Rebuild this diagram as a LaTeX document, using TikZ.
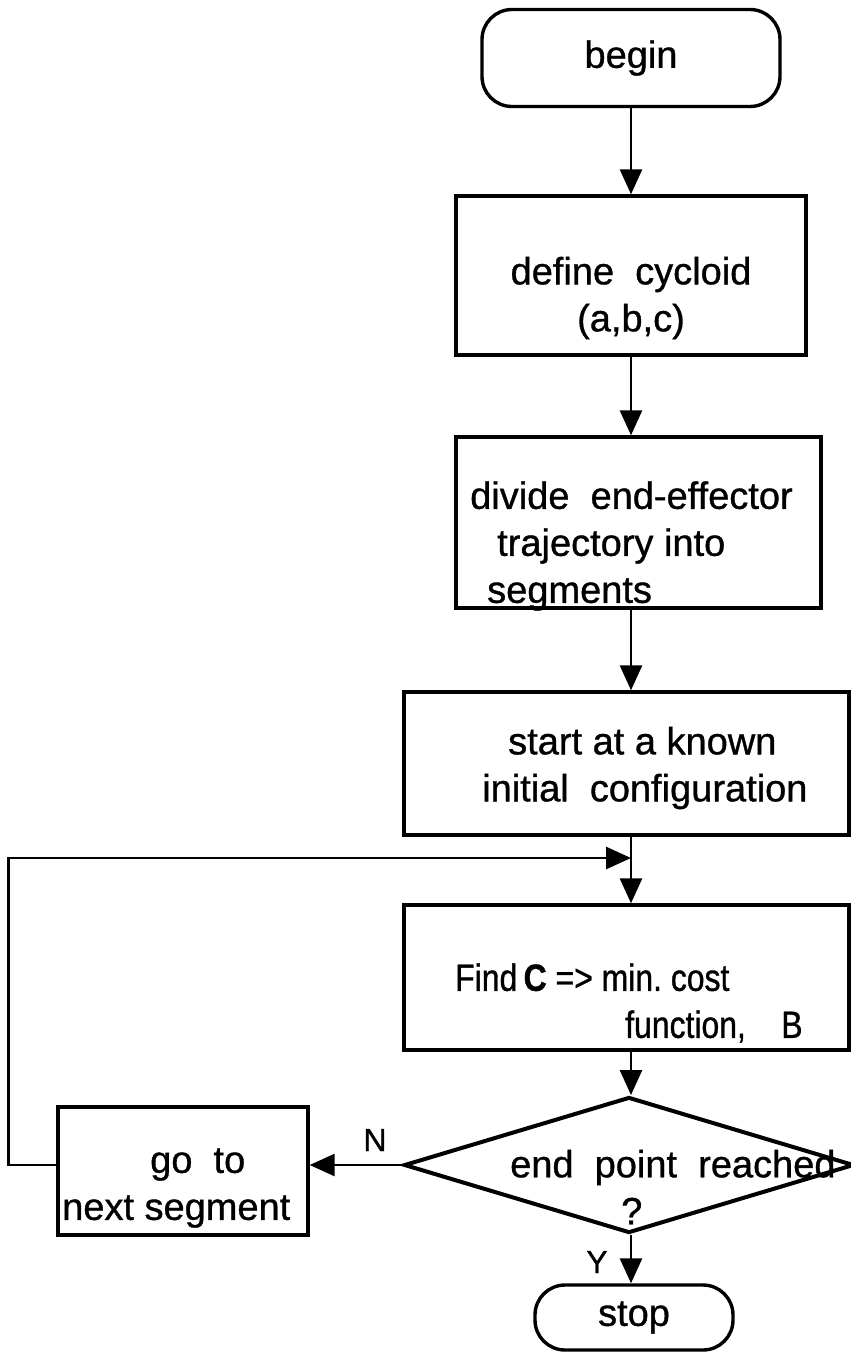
\documentclass[tikz,border=0pt]{standalone}
\usepackage{fontspec}
\setmainfont{Liberation Sans}[FakeBold=0.9]
\newfontfamily\narrowsans{Liberation Sans}[FakeStretch=0.84, FakeBold=0.9]
\usetikzlibrary{arrows.meta, shapes.geometric}

\begin{document}
\begin{tikzpicture}[x=1pt, y=1pt,
    flowbox/.style={draw, line width=3.4pt, inner sep=0pt},
    termbox/.style={flowbox, rounded corners=30pt, font=\fontsize{38}{47}\selectfont},
    decbox/.style={draw, diamond, line width=4pt, inner sep=0pt},
    txt/.style={inner sep=0pt, font=\fontsize{38}{47}\selectfont},
    yn/.style={inner sep=0pt, font=\fontsize{32}{38}\selectfont},
    flow/.style={line width=2.8pt, -{Triangle[length=25pt, width=22pt]}},
  ]
  \useasboundingbox (0,0) rectangle (851,-1358);

  % boxes
  \node[termbox, minimum width=298pt, minimum height=97pt] (begin) at (631,-58) {begin};
  \node[flowbox, minimum width=350pt, minimum height=159pt] (cycloid) at (631,-275.5) {};
  \node[flowbox, minimum width=365pt, minimum height=171pt] (divide) at (638.5,-522.5) {};
  \node[flowbox, minimum width=445pt, minimum height=143pt] (start) at (626.5,-763.5) {};
  \node[flowbox, minimum width=445pt, minimum height=145pt] (find) at (626.5,-977.5) {};
  \node[decbox, minimum width=450pt, minimum height=136pt] (reached) at (629,-1165) {};
  \node[flowbox, minimum width=250pt, minimum height=128pt] (goto) at (183,-1171) {};
  \node[termbox, minimum width=198pt, minimum height=65pt] (stop) at (634,-1317.5) {stop};

  % texts
  \node[txt, align=center] (cycloid-t) at (631,-298) {define\ \ cycloid\\(a,b,c)};
  \node[txt, align=left, anchor=west] (divide-t) at (470,-546)
    {divide\ \ end-effector\\\hspace*{27pt}trajectory into\\\hspace*{17pt}segments};
  \node[txt, align=left, anchor=west] (start-t) at (482,-768)
    {\hspace*{26pt}start at a known\\initial\ \ configuration};
  \node[txt, align=left, anchor=west, font=\narrowsans\fontsize{38}{47}\selectfont] (find-t) at (455,-1003)
    {Find\,\textbf{C} => min.\ cost\\\hspace*{170pt}function,\ \ \ \ B};
  \node[txt, align=left, anchor=west] (reached-t) at (510,-1187)
    {end\ \ point\ \ reached\\\hspace*{111pt}?};
  \node[txt, align=left, anchor=west] (goto-t) at (62,-1188)
    {\hspace*{88pt}go\ \ to\\next segment};
  \node[yn] (no) at (375,-1140) {N};
  \node[yn] (yes) at (597,-1262) {Y};

  % connectors
  \coordinate (join) at (631,-858);
  \draw[flow] (begin) -- (cycloid);
  \draw[flow] (cycloid.south) -- (cycloid.south |- divide.north);
  \draw[flow] (join |- divide.south) -- (join |- start.north);
  \draw[flow] (join |- start.south) -- (join |- find.north);
  \draw[flow] (join |- find.south) -- (join |- reached.north);
  \draw[flow] (reached.west) -- (reached.west -| goto.east);
  \draw[flow] (join |- reached.south) -- (join |- stop.north);
  \draw[flow] (goto.west |- reached.west) -- ++(-48,0) |- (join);
\end{tikzpicture}
\end{document}
